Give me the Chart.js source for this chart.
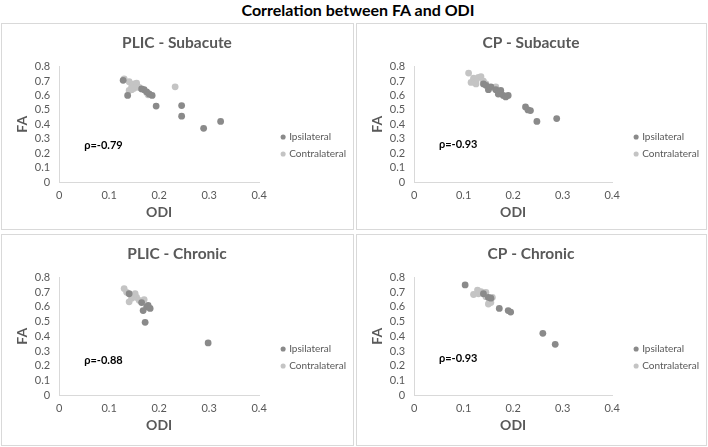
<!DOCTYPE html>
<html lang="en">
<head>
  <meta charset="UTF-8">
  <title>Correlation between FA and ODI</title>
  <script src="https://cdn.jsdelivr.net/npm/chart.js"></script>
  <style>
    body { margin: 0; background: #fff; font-family: Lato, "Open Sans", sans-serif; }
    #page { position: relative; width: 708px; height: 447px; }
    h1 { position: absolute; left: 0; top: 0; width: 716px; margin: 0; text-align: center;
         font-size: 16px; line-height: 20px; font-weight: bold; color: #000; }
    .panel { position: absolute; border: 1px solid #d9d9d9; box-sizing: border-box; }
    .panel canvas { display: block; }
  </style>
</head>
<body>
<div id="page">
  <h1>Correlation between FA and ODI</h1>
  <div class="panel" style="left:1px; top:23px; width:353px; height:207px;"><canvas id="c1"></canvas></div>
  <div class="panel" style="left:356px; top:23px; width:351px; height:207px;"><canvas id="c2"></canvas></div>
  <div class="panel" style="left:1px; top:234px; width:353px; height:212px;"><canvas id="c3"></canvas></div>
  <div class="panel" style="left:356px; top:234px; width:351px; height:212px;"><canvas id="c4"></canvas></div>
</div>
<script>
  const panelTitles = ['PLIC - Subacute', 'CP - Subacute', 'PLIC - Chronic', 'CP - Chronic'];
  const rhoLabels = ['ρ=-0.79', 'ρ=-0.93', 'ρ=-0.88', 'ρ=-0.93'];
  const xTicks = [0, 0.1, 0.2, 0.3, 0.4];
  const yTicks = [0, 0.1, 0.2, 0.3, 0.4, 0.5, 0.6, 0.7, 0.8];

  // PLIC - Subacute
  const plicSubIpsiODI = [0.128, 0.137, 0.165, 0.170, 0.175, 0.180, 0.186, 0.194, 0.245, 0.245, 0.289, 0.323];
  const plicSubIpsiFA  = [0.705, 0.600, 0.645, 0.640, 0.625, 0.610, 0.600, 0.526, 0.530, 0.456, 0.372, 0.420];
  const plicSubContraODI = [0.130, 0.140, 0.145, 0.150, 0.155, 0.140, 0.150, 0.160, 0.175, 0.178, 0.232, 0.145];
  const plicSubContraFA  = [0.715, 0.695, 0.660, 0.680, 0.685, 0.635, 0.650, 0.655, 0.620, 0.605, 0.660, 0.640];

  // CP - Subacute
  const cpSubIpsiODI = [0.140, 0.145, 0.150, 0.155, 0.165, 0.170, 0.175, 0.180, 0.185, 0.190, 0.225, 0.230, 0.235, 0.248, 0.288];
  const cpSubIpsiFA  = [0.680, 0.670, 0.640, 0.660, 0.640, 0.610, 0.635, 0.600, 0.590, 0.600, 0.520, 0.500, 0.495, 0.420, 0.440];
  const cpSubContraODI = [0.110, 0.115, 0.120, 0.125, 0.130, 0.135, 0.140, 0.145, 0.160, 0.165, 0.125];
  const cpSubContraFA  = [0.755, 0.690, 0.720, 0.700, 0.725, 0.730, 0.700, 0.680, 0.655, 0.660, 0.680];

  // PLIC - Chronic
  const plicChrIpsiODI = [0.140, 0.165, 0.168, 0.175, 0.178, 0.182, 0.172, 0.298];
  const plicChrIpsiFA  = [0.690, 0.630, 0.575, 0.600, 0.610, 0.590, 0.495, 0.355];
  const plicChrContraODI = [0.130, 0.135, 0.140, 0.145, 0.150, 0.155, 0.160, 0.170, 0.152];
  const plicChrContraFA  = [0.725, 0.700, 0.635, 0.660, 0.675, 0.665, 0.645, 0.650, 0.690];

  // CP - Chronic
  const cpChrIpsiODI = [0.103, 0.140, 0.150, 0.155, 0.172, 0.190, 0.195, 0.260, 0.285];
  const cpChrIpsiFA  = [0.750, 0.690, 0.665, 0.660, 0.590, 0.575, 0.565, 0.420, 0.345];
  const cpChrContraODI = [0.120, 0.128, 0.130, 0.135, 0.140, 0.145, 0.150, 0.155, 0.158, 0.145];
  const cpChrContraFA  = [0.685, 0.715, 0.690, 0.705, 0.695, 0.670, 0.620, 0.630, 0.665, 0.700];

  const grey = '#595959';

  function pts(xs, ys) {
    return xs.map((x, i) => ({ x: x, y: ys[i] }));
  }

  // writes the rho label inside the plot, placed in axis units
  const rhoPlugin = {
    id: 'rho',
    afterDatasetsDraw(chart, args, opts) {
      const ctx = chart.ctx;
      ctx.save();
      ctx.font = 'bold 11px Lato, sans-serif';
      ctx.fillStyle = '#000';
      ctx.textBaseline = 'middle';
      ctx.fillText(opts.text, chart.scales.x.getPixelForValue(opts.x), chart.scales.y.getPixelForValue(opts.y));
      ctx.restore();
    }
  };

  // excel puts the legend a bit lower and further right than chart.js does
  const legendShift = {
    id: 'legendShift',
    afterLayout(chart, args, opts) {
      const lg = chart.legend;
      lg.left += opts.dx; lg.right += opts.dx;
      lg.top += opts.dy; lg.bottom += opts.dy;
    }
  };

  function makeChart(id, title, ipsi, contra, rho, rhoY, padBottom) {
    return new Chart(document.getElementById(id), {
      type: 'scatter',
      data: {
        datasets: [
          { label: 'Ipsilateral', data: ipsi, backgroundColor: '#8a8a8a', borderColor: '#8a8a8a', borderWidth: 0, pointRadius: 3.4, pointHoverRadius: 3.4 },
          { label: 'Contralateral', data: contra, backgroundColor: '#c4c4c4', borderColor: '#c4c4c4', borderWidth: 0, pointRadius: 3.4, pointHoverRadius: 3.4 }
        ]
      },
      options: {
        responsive: true,
        maintainAspectRatio: false,
        animation: false,
        layout: { padding: { left: 12, right: 13, top: 0, bottom: padBottom } },
        plugins: {
          title: { display: true, text: title, color: grey, font: { size: 15.5, weight: 'bold', family: 'Lato' }, padding: { top: 10, bottom: 14 } },
          legend: {
            position: 'right',
            labels: { usePointStyle: true, pointStyle: 'circle', boxWidth: 2, boxHeight: 3.6, color: grey, font: { size: 10, family: 'Lato' }, padding: 7 }
          },
          tooltip: { enabled: false },
          rho: { text: rho, x: 0.05, y: rhoY },
          legendShift: { dx: 16, dy: 21 }
        },
        scales: {
          x: {
            type: 'linear', min: 0, max: 0.4,
            afterBuildTicks: s => { s.ticks = xTicks.map(v => ({ value: v })); },
            afterFit: s => { s.height -= 8; },
            ticks: { color: grey, font: { size: 11, family: 'Lato' }, padding: 7, autoSkip: false, maxRotation: 0, callback: v => String(v) },
            grid: { display: false, drawTicks: false, tickLength: 0 },
            border: { color: '#d9d9d9' },
            title: { display: true, text: 'ODI', color: grey, font: { size: 14, weight: 'bold', family: 'Lato' }, padding: { top: 3, bottom: 4 } }
          },
          y: {
            type: 'linear', min: 0, max: 0.8,
            afterBuildTicks: s => { s.ticks = yTicks.map(v => ({ value: v })); },
            afterFit: s => { s.width -= 8; },
            ticks: { color: grey, font: { size: 11, family: 'Lato' }, padding: 9, autoSkip: false, callback: v => String(v) },
            grid: { display: false, drawTicks: false, tickLength: 0 },
            border: { color: '#d9d9d9' },
            title: { display: true, text: 'FA', color: grey, font: { size: 14, weight: 'bold', family: 'Lato' }, padding: { top: 0, bottom: 3 } }
          }
        }
      },
      plugins: [rhoPlugin, legendShift]
    });
  }

  makeChart('c1', panelTitles[0], pts(plicSubIpsiODI, plicSubIpsiFA), pts(plicSubContraODI, plicSubContraFA), rhoLabels[0], 0.25, 4);
  makeChart('c2', panelTitles[1], pts(cpSubIpsiODI, cpSubIpsiFA), pts(cpSubContraODI, cpSubContraFA), rhoLabels[1], 0.26, 4);
  makeChart('c3', panelTitles[2], pts(plicChrIpsiODI, plicChrIpsiFA), pts(plicChrContraODI, plicChrContraFA), rhoLabels[2], 0.235, 7);
  makeChart('c4', panelTitles[3], pts(cpChrIpsiODI, cpChrIpsiFA), pts(cpChrContraODI, cpChrContraFA), rhoLabels[3], 0.25, 7);
</script>
</body>
</html>
